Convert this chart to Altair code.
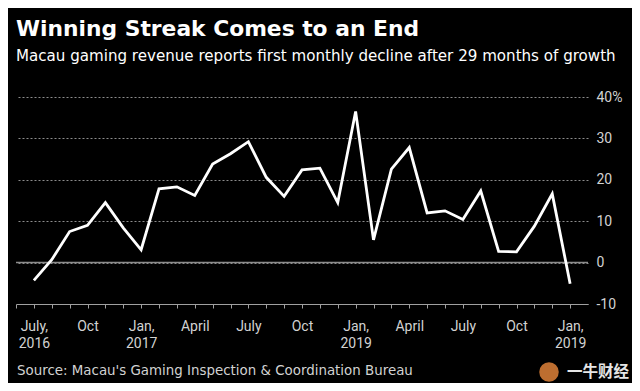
import json
import altair as alt
import pandas as pd

# ---- data ----
month_index = list(range(31))  # July 2016 .. Jan 2019
growth = [-4.3, 0.7, 7.5, 9.0, 14.5, 8.4, 3.1, 17.8, 18.3, 16.2, 23.8, 26.3, 29.2,
          20.6, 16.0, 22.4, 22.8, 14.5, 36.5, 5.5, 22.6, 27.8, 12.0, 12.5, 10.4,
          17.3, 2.7, 2.6, 8.8, 16.6, -5.1]
label_positions = [0, 3, 6, 9, 12, 15, 18, 21, 24, 27, 30]
label_texts = [["July,", "2016"], ["Oct"], ["Jan,", "2017"], ["April"], ["July"], ["Oct"],
               ["Jan,", "2019"], ["April"], ["July"], ["Oct"], ["Jan,", "2019"]]
y_values = [-10, 0, 10, 20, 30, 40]

title_text = "Winning Streak Comes to an End"
subtitle_text = "Macau gaming revenue reports first monthly decline after 29 months of growth"
source_text = "Source: Macau's Gaming Inspection & Coordination Bureau"
watermark_text = "一牛财经"

TEXT_FONT = "DejaVu Sans, sans-serif"
AXIS_FONT = "Roboto, sans-serif"
LABEL_COLOR = "#d2d2d2"

df = pd.DataFrame({"m": month_index, "g": growth})

expr = "''"
for pos, lbl in reversed(list(zip(label_positions, label_texts))):
    expr = f"datum.value == {pos} ? {json.dumps(lbl)} : ({expr})"

x_enc = alt.X(
    "m:Q",
    scale=alt.Scale(domain=[-1, 31], nice=False, zero=False),
    axis=alt.Axis(
        values=list(range(-1, 31)), labelExpr=expr, title=None, grid=False,
        domainColor="#a0a0a0", tickColor="#a0a0a0", tickSize=4, domainWidth=1,
        labelPadding=11, labelFontSize=14, labelColor=LABEL_COLOR, labelFont=AXIS_FONT,
        labelLineHeight=17, labelOverlap=False, labelFlush=False,
        labelAlign="center", labelBaseline="top",
    ),
)
y_enc = alt.Y(
    "g:Q",
    scale=alt.Scale(domain=[-10, 40], nice=False, zero=False),
    axis=alt.Axis(
        orient="right", values=y_values, title=None,
        labelExpr="datum.value == 40 ? '40%' : toString(datum.value)",
        grid=True, gridDash=[2, 2], gridColor="#8c8c8c", gridWidth=1,
        domain=False, ticks=False, labelPadding=8, labelFontSize=14,
        labelColor=LABEL_COLOR, labelFont=AXIS_FONT, labelAlign="left",
    ),
)

line = alt.Chart(df).mark_line(color="white", strokeWidth=2.8, strokeJoin="miter").encode(
    x=x_enc, y=y_enc
)

zero_rule = alt.Chart(pd.DataFrame({"z": [0]})).mark_rule(color="#8c8c8c", strokeWidth=1.5).encode(
    y=alt.Y("z:Q")
)

source = alt.Chart(pd.DataFrame({"t": [source_text]})).mark_text(
    align="left", baseline="alphabetic", font=TEXT_FONT, fontSize=13.4, color=LABEL_COLOR
).encode(text="t:N", x=alt.value(1), y=alt.value(278))

logo = alt.Chart(pd.DataFrame({"t": [watermark_text]})).mark_point(
    filled=True, shape="circle", size=380, color="#d27a35", opacity=0.9
).encode(x=alt.value(533), y=alt.value(275))

watermark = alt.Chart(pd.DataFrame({"t": [watermark_text]})).mark_text(
    align="left", baseline="alphabetic", font="Noto Sans CJK SC", fontSize=15.5,
    fontWeight="bold", color="#e6e6e6"
).encode(text="t:N", x=alt.value(551), y=alt.value(280))

chart = alt.layer(zero_rule, line, source, logo, watermark).properties(
    width=572,
    height=207,
    padding={"left": 8, "top": 89, "right": 44, "bottom": 79},
    autosize=alt.AutoSizeParams(type="none"),
    background="#000000",
    title=alt.TitleParams(
        text=title_text, subtitle=subtitle_text, anchor="start", frame="group",
        font=TEXT_FONT, fontSize=21.8, fontWeight="bold", color="white",
        subtitleFont=TEXT_FONT, subtitleFontSize=15.1, subtitleColor="white",
        subtitlePadding=8, offset=26,
    ),
).configure_view(stroke=None)

chart.save("out.html", embed_options={"renderer": "svg", "actions": False})
